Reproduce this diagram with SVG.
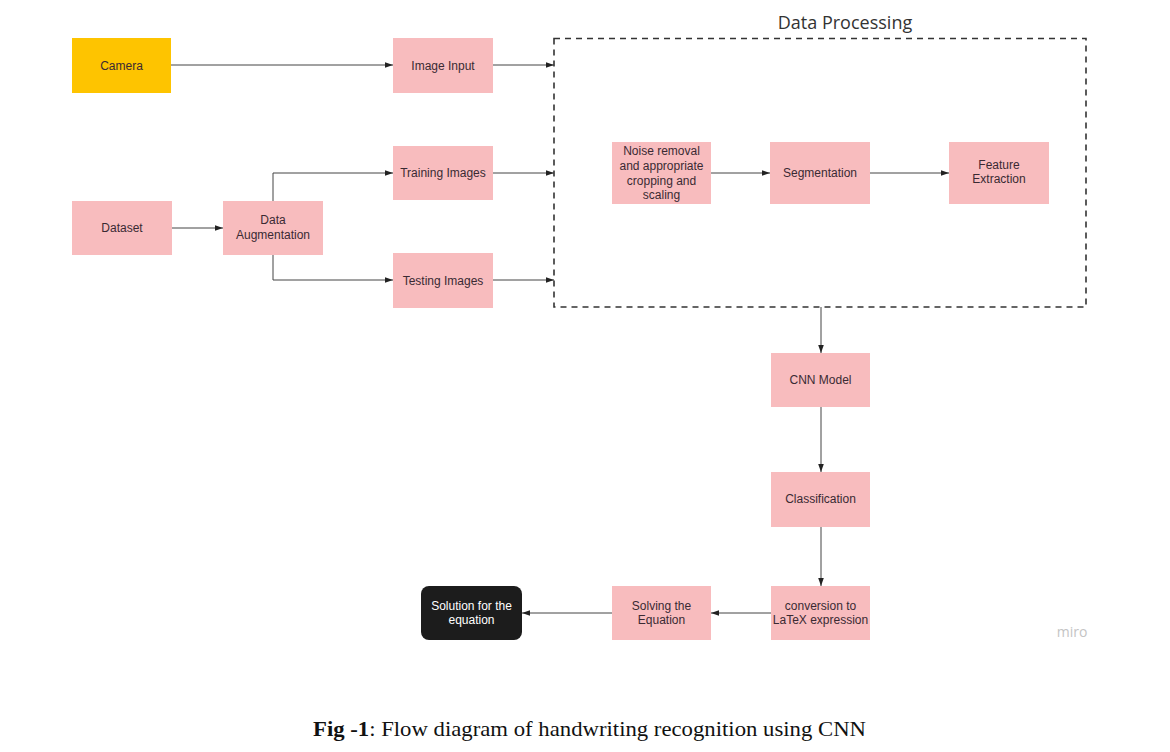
<svg xmlns="http://www.w3.org/2000/svg" width="1170" height="752" viewBox="0 0 1170 752">
<defs>
<marker id="ah" viewBox="0 0 10 10" refX="10" refY="5" markerWidth="8" markerHeight="8" markerUnits="userSpaceOnUse" orient="auto">
<path d="M0,1.5 L10,5 L0,8.5 z" fill="#222"/>
</marker>
<style>
.n{fill:#f8bcbe}
.t{font-family:"Liberation Sans",Arial,sans-serif;font-size:12px;fill:#3a2a33;text-anchor:middle}
.c{fill:none;stroke:#444;stroke-width:1;marker-end:url(#ah)}
</style>
</defs>
<rect width="1170" height="752" fill="#ffffff"/>

<g id="group-data-processing">
<rect x="554" y="38.5" width="532" height="268.5" fill="none" stroke="#333" stroke-width="1.6" stroke-dasharray="6,5"/>
<text x="845" y="29" font-family="'Open Sans',sans-serif" font-size="18" fill="#333" text-anchor="middle">Data Processing</text>
</g>

<g id="connectors">
<path class="c" d="M171,65 H393"/>
<path class="c" d="M493,65 H554"/>
<path class="c" d="M493,173 H554"/>
<path class="c" d="M493,280 H554"/>
<path class="c" d="M172,228 H223"/>
<path class="c" d="M273,201 V173 H393"/>
<path class="c" d="M273,255 V280 H393"/>
<path class="c" d="M711,173 H770"/>
<path class="c" d="M870,173 H949"/>
<path class="c" d="M821,307 V353"/>
<path class="c" d="M821,407 V472"/>
<path class="c" d="M821,527 V586"/>
<path class="c" d="M771,613 H711"/>
<path class="c" d="M612,613 H522"/>
</g>

<g id="camera"><rect x="72" y="38" width="99" height="55" fill="#fec400"/><text class="t" x="121.5" y="69.5">Camera</text></g>
<g id="image-input"><rect class="n" x="393" y="38" width="100" height="55"/><text class="t" x="443" y="69.5">Image Input</text></g>
<g id="training-images"><rect class="n" x="393" y="146" width="100" height="54"/><text class="t" x="443" y="177">Training Images</text></g>
<g id="dataset"><rect class="n" x="72" y="201" width="100" height="54"/><text class="t" x="122" y="232">Dataset</text></g>
<g id="data-augmentation"><rect class="n" x="223" y="201" width="100" height="54"/><text class="t" x="273" y="224">Data</text><text class="t" x="273" y="239">Augmentation</text></g>
<g id="testing-images"><rect class="n" x="393" y="253" width="100" height="55"/><text class="t" x="443" y="284.5">Testing Images</text></g>

<g id="noise-removal"><rect class="n" x="612" y="142" width="99" height="62"/>
<text class="t" x="661.5" y="155">Noise removal</text><text class="t" x="661.5" y="170">and appropriate</text><text class="t" x="661.5" y="185">cropping and</text><text class="t" x="661.5" y="199">scaling</text></g>
<g id="segmentation"><rect class="n" x="770" y="142" width="100" height="62"/><text class="t" x="820" y="177">Segmentation</text></g>
<g id="feature-extraction"><rect class="n" x="949" y="142" width="100" height="62"/><text class="t" x="999" y="169">Feature</text><text class="t" x="999" y="183">Extraction</text></g>

<g id="cnn-model"><rect class="n" x="771" y="353" width="99" height="54"/><text class="t" x="820.5" y="384">CNN Model</text></g>
<g id="classification"><rect class="n" x="771" y="472" width="99" height="55"/><text class="t" x="820.5" y="503">Classification</text></g>
<g id="latex-conversion"><rect class="n" x="771" y="586" width="99" height="54"/><text class="t" x="820.5" y="610">conversion to</text><text class="t" x="820.5" y="624">LaTeX expression</text></g>
<g id="solving-equation"><rect class="n" x="612" y="586" width="99" height="54"/><text class="t" x="661.5" y="610">Solving the</text><text class="t" x="661.5" y="624">Equation</text></g>
<g id="solution"><rect x="421" y="586" width="101" height="54" rx="8" fill="#1c1c1c"/><text class="t" x="471.5" y="610" style="fill:#ffffff">Solution for the</text><text class="t" x="471.5" y="624" style="fill:#ffffff">equation</text></g>

<text x="1072" y="637" font-family="'Open Sans',sans-serif" font-size="14" fill="#c4c4c4" text-anchor="middle">miro</text>

<text x="313" y="736" font-family="'Liberation Serif',serif" font-size="21" fill="#111" textLength="553" lengthAdjust="spacingAndGlyphs"><tspan font-weight="bold">Fig -1</tspan>: Flow diagram of handwriting recognition using CNN</text>
</svg>
